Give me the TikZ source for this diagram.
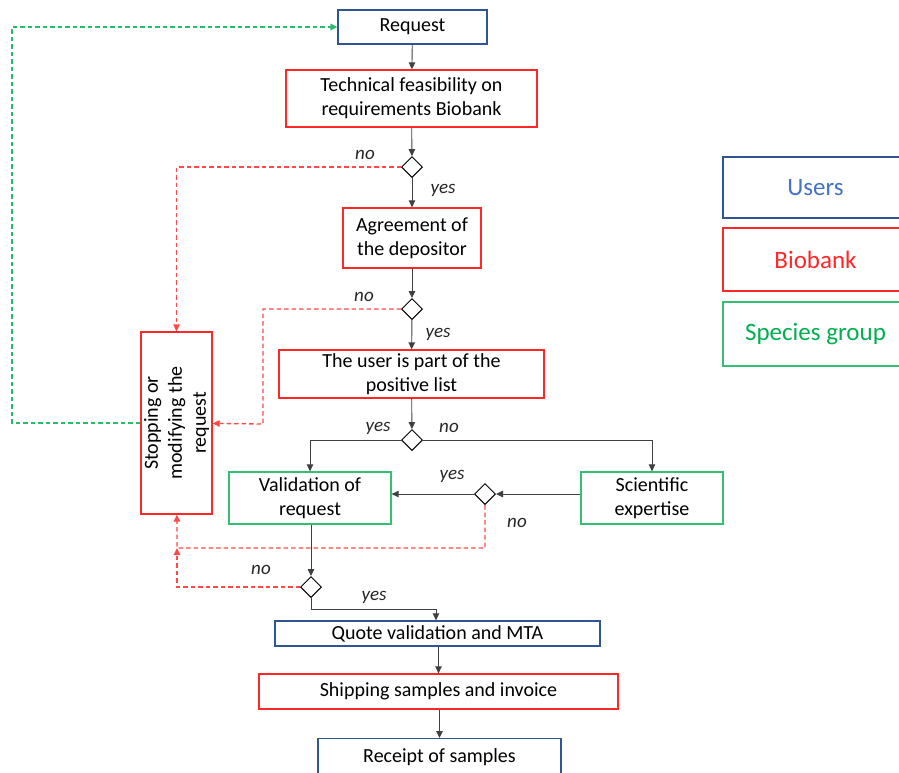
\documentclass[tikz,border=0pt]{standalone}
\usepackage{fontspec}
\setmainfont{Carlito}
\definecolor{userblue}{RGB}{47,85,151}
\definecolor{usertext}{RGB}{68,114,196}
\definecolor{bankred}{RGB}{255,40,40}
\definecolor{groupgreen}{RGB}{0,176,80}
\definecolor{linegray}{RGB}{64,64,64}
\usetikzlibrary{shapes.geometric,arrows.meta,positioning}

\begin{document}
\begin{tikzpicture}[x=1pt, y=-1pt,
    every node/.style={font=\fontsize{20}{24}\selectfont, align=center, inner sep=0pt},
    ubox/.style={draw=userblue, line width=1.3pt, fill=white},
    bbox/.style={draw=bankred, line width=1.3pt, fill=white},
    gbox/.style={draw=groupgreen!80, line width=1.3pt, fill=white},
    choice/.style={diamond, draw=black, line width=1pt, fill=white, minimum width=21pt, minimum height=21pt},
    arrow/.style={-{Triangle[length=7pt,width=6.5pt]}, line width=0.9pt, draw=linegray},
    noarrow/.style={-{Triangle[length=7pt,width=6.5pt]}, line width=1.3pt, draw=bankred!85, dash pattern=on 4.5pt off 3pt},
    backarrow/.style={-{Triangle[length=7pt,width=6.5pt]}, line width=1.4pt, draw=groupgreen!85, dash pattern=on 4.5pt off 3pt},
    lab/.style={font=\fontsize{19}{22}\selectfont\itshape, text=black!85},
    legend/.style={minimum width=185pt, font=\fontsize{25}{28}\selectfont}
  ]
  \useasboundingbox (0,0) rectangle (899,772);

  % main chain
  \node[ubox, minimum width=149pt, minimum height=34pt] (req) at (412.5,27) {Request};
  \node[bbox, minimum width=251pt, minimum height=57pt] (tech) at (411.5,98.5) {Technical feasibility on\\requirements Biobank};
  \node[choice] (d1) at (412,167) {};
  \node[bbox, minimum width=138pt, minimum height=60pt] (agree) at (412,238) {Agreement of\\the depositor};
  \node[choice] (d2) at (412,309) {};
  \node[bbox, minimum width=265pt, minimum height=48pt] (plist) at (411.5,374) {The user is part of the\\positive list};
  \node[choice] (d3) at (412,440) {};
  \node[gbox, minimum width=162pt, minimum height=52pt] (valid) at (310,498) {Validation of\\request};
  \node[gbox, minimum width=142pt, minimum height=52pt] (expert) at (652,498) {Scientific\\expertise};
  \node[choice] (d4) at (485,494) {};
  \node[choice] (d5) at (311,587) {};
  \node[ubox, minimum width=325pt, minimum height=25pt] (quote) at (437.5,633.5) {Quote validation and MTA};
  \node[bbox, minimum width=359pt, minimum height=35pt] (ship) at (438.5,691.5) {Shipping samples and invoice};
  \node[ubox, minimum width=243pt, minimum height=36pt, anchor=north] (receipt) at (439.5,738) {};
  \node (receipttext) at (439.5,757) {Receipt of samples};

  % stop box
  \node[bbox, rotate=90, minimum width=182pt, minimum height=71pt] (stop) at (176.5,423) {Stopping or\\modifying the\\request};

  % legend
  \node[ubox, legend, minimum height=61pt, text=usertext] (users) at (815.5,187.5) {Users};
  \node[bbox, legend, minimum height=63pt, text=bankred] (bank) at (815.5,259.5) {Biobank};
  \node[gbox, legend, minimum height=64pt, text=groupgreen] (group) at (815.5,334) {Species group};

  \coordinate (no2bend) at (263,424);
  \coordinate (no4bend) at (177,548);
  \coordinate (yesbend) at (436,609);
  \coordinate (backbend) at (12,27);

  % connectors
  \draw[arrow] (req) -- (tech);
  \draw[arrow] (tech) -- (d1);
  \draw[arrow] (d1) -- (agree);
  \draw[arrow] (agree) -- (d2);
  \draw[arrow] (d2) -- (plist);
  \draw[arrow] (plist) -- (d3);
  \draw[arrow] (d3.west) -| (valid.north);
  \draw[arrow] (d3.east) -| (expert.north);
  \draw[arrow] (expert.west |- d4) -- (d4.east);
  \draw[arrow] (d4.west) -- (valid.east |- d4);
  \draw[arrow] (valid.south -| d5) -- (d5.north);
  \draw[arrow] (d5.south) |- (yesbend) -- (yesbend |- quote.north);
  \draw[arrow] (quote.south -| ship) -- (ship.north);
  \draw[arrow] (ship.south -| receipt) -- (receipt.north);

  % rejections
  \draw[noarrow] (d1.west) -| (stop);
  \draw[noarrow] (d2.west) -| (no2bend) -- (stop);
  \draw[noarrow] (d4.south) |- (no4bend) -- (stop);
  \draw[noarrow] (d5.west) -| (no4bend);
  \draw[backarrow] (stop) -| (backbend) -- (req);

  % labels
  \node[lab] at (365,155) {no};
  \node[lab] at (443,190) {yes};
  \node[lab] at (364,297) {no};
  \node[lab] at (438,334) {yes};
  \node[lab] at (378,428) {yes};
  \node[lab] at (449,428) {no};
  \node[lab] at (452,476) {yes};
  \node[lab] at (517,523) {no};
  \node[lab] at (261,570) {no};
  \node[lab] at (374,597) {yes};
\end{tikzpicture}
\end{document}
